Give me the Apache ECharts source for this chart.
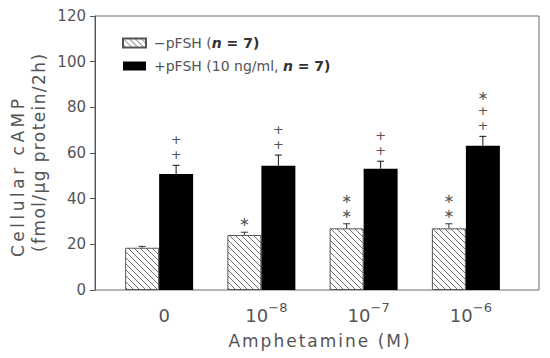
<!DOCTYPE html>
<html><head><meta charset="utf-8">
<script src="https://cdn.jsdelivr.net/npm/echarts@6/dist/echarts.min.js"></script>
<style>
html,body{margin:0;padding:0;background:#fff}
#chart{width:550px;height:358px}
#chart text[style*="Verdana"],#chart text[font-family*="Verdana"]{letter-spacing:3.5px}
#chart text[style*="Tahoma"],#chart text[font-family*="Tahoma"]{letter-spacing:1.4px}
#chart text[style*="Arial"],#chart text[font-family*="Arial"]{letter-spacing:2px}
</style></head><body><div id="chart"></div>
<script>
// ---- data ----
const categories = ['0', '10^−8', '10^−7', '10^−6'];
const seriesNames = ['−pFSH (n = 7)', '+pFSH (10 ng/ml, n = 7)'];
const minusFSH = [18.5, 24.1, 27.0, 27.0];
const minusFSHErr = [0.6, 1.2, 2.0, 2.0];
const plusFSH = [50.8, 54.4, 53.1, 63.2];
const plusFSHErr = [3.8, 4.7, 3.3, 4.1];
const minusMarks = ['', '∗', '∗\n∗', '∗\n∗'];
const plusMarks = ['+\n+', '+\n+', '+\n+', '∗\n+\n+'];
const yMin = 0, yMax = 120, yStep = 20;
const yTitle1 = 'Cellular cAMP';
const yTitle2 = '(fmol/μg protein/2h)';
const xTitle = 'Amphetamine (M)';

// ---- helpers ----
const FONT = 'DejaVu Sans';
const TXT = '#555';
const CAT_GAP = 0.335;

function hatchPattern() {
  const s = 6;
  const c = document.createElement('canvas');
  c.width = s; c.height = s;
  const g = c.getContext('2d');
  g.fillStyle = '#fff'; g.fillRect(0, 0, s, s);
  g.strokeStyle = '#707070'; g.lineWidth = 1;
  g.beginPath();
  g.moveTo(-1, -1); g.lineTo(s + 1, s + 1);
  g.moveTo(-1, s - 1); g.lineTo(1, s + 1);
  g.moveTo(s - 1, -1); g.lineTo(s + 1, 1);
  g.stroke();
  return c;
}

function errRender(sign, marks, color) {
  return function (params, api) {
    const i = api.value(0), v = api.value(1), e = api.value(2);
    const band = api.size([1, 0])[0];
    const bw = band * (1 - CAT_GAP) / 2;
    const base = api.coord([i, v]);
    const top = api.coord([i, v + e]);
    const x = base[0] + sign * bw / 2;
    const children = [
      { type: 'line', shape: { x1: x, y1: base[1], x2: x, y2: top[1] }, style: { stroke: color, lineWidth: 1 } },
      { type: 'line', shape: { x1: x - 3.5, y1: top[1], x2: x + 3.5, y2: top[1] }, style: { stroke: color, lineWidth: 1 } }
    ];
    const m = marks[params.dataIndex];
    if (m) {
      children.push({
        type: 'text', x: x, y: top[1] - 3,
        style: { text: m, align: 'center', verticalAlign: 'bottom', fontFamily: FONT, fontSize: 13, lineHeight: 15, fill: '#555' }
      });
    }
    return { type: 'group', children };
  };
}

const chart = echarts.init(document.getElementById('chart'), null, { renderer: 'svg' });
const hatch = hatchPattern();

chart.setOption({
  animation: false,
  backgroundColor: '#fff',
  grid: [
    { left: 95, right: 11, top: 16, bottom: 68, show: true, borderColor: '#6a6a6a', borderWidth: 1 },
    { left: 108, right: 33, top: 16, bottom: 68 }
  ],
  xAxis: [
    { gridIndex: 0, type: 'value', min: 0, max: 1, show: false },
    {
      gridIndex: 1, type: 'category', data: categories,
      axisLine: { show: false }, axisTick: { show: false },
      axisLabel: {
        margin: 11, padding: [0, 0, 0, 10],
        formatter: function (v) {
          const p = v.split('^');
          return p.length > 1 ? '{b|' + p[0] + '}{s|' + p[1] + '}' : '{b|' + v + '}';
        },
        rich: {
          b: { fontFamily: FONT, fontSize: 18, lineHeight: 28, color: TXT, verticalAlign: 'middle' },
          s: { fontFamily: FONT, fontSize: 13, lineHeight: 12, color: TXT, verticalAlign: 'top' }
        }
      }
    }
  ],
  yAxis: [
    {
      gridIndex: 0, type: 'value', min: yMin, max: yMax, interval: yStep,
      axisLine: { show: true, lineStyle: { color: '#555' } },
      axisTick: { show: true, length: 5, lineStyle: { color: '#555' } },
      axisLabel: { fontFamily: FONT, fontSize: 15, color: TXT, margin: 9 },
      splitLine: { show: false }
    },
    { gridIndex: 1, type: 'value', min: yMin, max: yMax, interval: yStep, show: false, splitLine: { show: false } }
  ],
  legend: {
    orient: 'vertical', left: 122, top: 35, padding: 0, itemWidth: 23, itemHeight: 9, itemGap: 7,
    selectedMode: false, icon: 'rect',
    data: seriesNames,
    formatter: function (name) {
      if (name === seriesNames[0]) return '{t|−pFSH (}{bi|n}{b| = 7)}';
      return '{t|+pFSH (10 ng/ml, }{bi|n}{b| = 7)}';
    },
    textStyle: {
      fontFamily: FONT, fontSize: 14, color: TXT, lineHeight: 16, padding: [0, 0, 0, 3],
      rich: {
        t: { fontFamily: FONT, fontSize: 14, color: TXT, lineHeight: 16 },
        b: { fontFamily: FONT, fontSize: 14, fontWeight: 'bold', color: '#333', lineHeight: 16 },
        bi: { fontFamily: FONT, fontSize: 14, fontWeight: 'bold', fontStyle: 'italic', color: '#333', lineHeight: 16 }
      }
    }
  },
  graphic: [
    { type: 'text', x: 18, y: 257, rotation: Math.PI / 2,
      style: { text: yTitle1, fontFamily: FONT + ', Verdana', fontSize: 17, fill: TXT, align: 'left', verticalAlign: 'middle' } },
    { type: 'text', x: 39, y: 252, rotation: Math.PI / 2,
      style: { text: yTitle2, fontFamily: FONT + ', Tahoma', fontSize: 17, fill: TXT, align: 'left', verticalAlign: 'middle' } },
    { type: 'text', x: 320, y: 341,
      style: { text: xTitle, fontFamily: FONT + ', Arial', fontSize: 17, fill: TXT, align: 'center', verticalAlign: 'middle' } }
  ],
  series: [
    {
      name: seriesNames[0], type: 'bar', xAxisIndex: 1, yAxisIndex: 1,
      data: minusFSH, barGap: '0%', barCategoryGap: (CAT_GAP * 100) + '%',
      itemStyle: { color: { image: hatch, repeat: 'repeat' }, borderColor: '#555', borderWidth: 1 }
    },
    {
      name: seriesNames[1], type: 'bar', xAxisIndex: 1, yAxisIndex: 1,
      data: plusFSH, barGap: '0%', barCategoryGap: (CAT_GAP * 100) + '%',
      itemStyle: { color: '#000', borderColor: '#000', borderWidth: 0 }
    },
    {
      type: 'custom', xAxisIndex: 1, yAxisIndex: 1, z: 5,
      data: minusFSH.map((v, i) => [i, v, minusFSHErr[i]]),
      renderItem: errRender(-1, minusMarks, '#333')
    },
    {
      type: 'custom', xAxisIndex: 1, yAxisIndex: 1, z: 5,
      data: plusFSH.map((v, i) => [i, v, plusFSHErr[i]]),
      renderItem: errRender(1, plusMarks, '#111')
    }
  ]
});
</script></body></html>
